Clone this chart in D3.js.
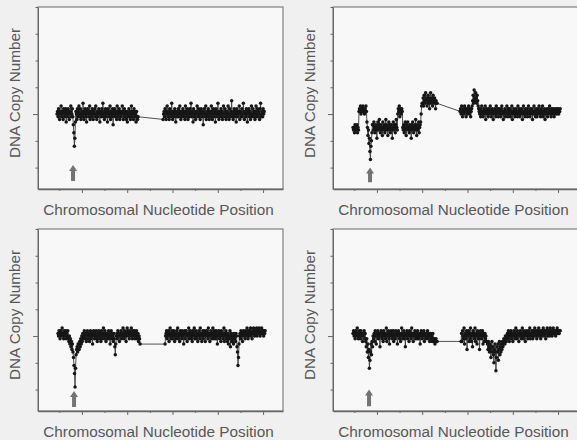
<!DOCTYPE html>
<html lang="en">
<head>
    <meta charset="UTF-8">
    <title>DNA Copy Number along the chromosome</title>
    <script src="https://d3js.org/d3.v7.min.js"></script>
    <style>
        body { margin: 0; background: #f0f0f0; }
        svg { display: block; }
        .label { font-family: "Liberation Sans", Arial, sans-serif; font-size: 15.3px; fill: #575757; }
    </style>
</head>
<body>
<div id="chart"></div>
<script>
// log2 copy-number ratio x10; arm extents in Mb
const armsA = [[22.5, 112], [139.6, 251.2]];
const armsB = [[23.6, 116.4], [141.8, 252.3]];
const armsC = [[23.6, 114.2], [141.8, 252.3]];
const armsD = [[23.6, 116.4], [142.9, 252.3]];

const valuesA1 = [
    0,1,-1,2,0,-2,1,0,3,-1,1,0,-2,2,1,-1,0,2,-3,1,
    0,-1,2,1,-2,0,1,3,-1,0,2,-1,-4,-7,-12,-9,-3,1,0,-2,
    2,-1,1,3,0,-1,2,-2,0,1,-1,4,0,-2,1,2,-1,0,-3,1,
    2,0,-1,1,3,-2,0,1,-1,2,0,-2,1,0,2,-1,3,0,-2,1,
    -1,0,2,1,-3,0,1,-1,2,0,4,-1,1,-2,0,2,-1,1,0,-3,
    2,1,-1,0,3,-2,1,0,-1,2,-4,1,0,2,-1,0,1,-2,3,0,
    -1,1,2,-2,0,1,-1,0,3,1,-2,0,2,-1,1,0,-2,1,-3,-1,
    0,2,-1,1,-2,0,3,-1,1,0,-2,2,1,-1,0,-3,1,-1,-2,-1];
const valuesA2 = [
    -2,0,1,-1,2,0,-2,1,3,0,-1,1,-2,2,0,1,-1,4,0,-2,
    1,0,-1,2,1,-3,0,1,-1,0,2,-1,1,3,0,-2,1,-1,0,2,
    -1,1,0,-2,3,1,-1,0,2,-2,0,1,-1,2,0,4,-1,1,0,-3,
    2,0,-1,1,-2,0,1,3,-1,0,2,-1,1,-2,0,2,1,-1,0,-4,
    1,2,0,-1,3,-2,0,1,-1,2,0,-2,1,0,-1,3,1,-2,0,2,
    -1,0,1,-3,2,0,-1,1,4,0,-2,1,-1,0,2,-1,1,-2,0,3,
    0,-1,2,1,-2,0,1,-1,3,0,-2,2,0,-1,1,5,-1,0,-2,1,
    2,-1,0,1,-3,2,0,-1,1,0,3,-2,1,0,-1,2,-1,0,4,1,
    -2,0,1,-1,2,0,-3,1,0,2,-1,1,-2,0,3,-1,0,2,-1,1,
    0,-2,1,3,-1,0,2,-1,1,0,-2,2,4,-1,0,1,-1,2,0,1];

const valuesB1 = [
    -5,-6,-5,-7,-4,-6,-5,-6,-4,-7,-5,-6,
    1,2,1,3,0,2,1,2,3,1,2,0,2,1,3,1,
    -3,-5,-8,-6,-11,-9,-14,-17,-12,-10,-7,-4,
    -4,-6,-3,-5,-7,-5,-4,-6,-9,-5,-3,-6,-4,-2,-5,-7,-4,-6,-5,-8,
    -3,-5,-6,-4,-7,-5,-2,-6,-4,-5,-8,-5,-3,-6,-4,-7,-5,-4,-6,-9,
    -5,-3,-6,-4,-5,-7,-4,-2,-5,-6,
    0,2,1,3,-1,2,1,0,2,1,
    -5,-6,-4,-7,-5,-3,-6,-8,-4,-5,-3,-6,-5,-7,-4,-6,-5,-9,
    -4,-6,-3,-5,-7,-5,-4,-6,-2,-5,-8,-4,-6,-5,-3,-7,-5,-4,
    -3,0,3,4,
    4,6,3,7,5,4,8,5,6,3,5,7,4,6,2,5,8,4,6,5,3,7,5,4,6,5,2,5,4,4];
const valuesB2 = [
    1,2,0,3,1,-1,2,1,0,3,2,1,-1,2,1,0,2,3,1,0,2,-1,1,2,
    3,5,7,4,9,6,5,8,6,4,7,5,3,2,
    1,0,2,-1,1,3,0,1,-1,2,1,0,3,-2,1,2,0,1,-1,2,
    0,1,3,1,-1,0,2,1,-2,1,0,2,1,-1,3,0,1,2,-1,1,
    2,0,1,-1,2,3,0,1,-2,1,0,2,-1,1,0,3,1,-1,2,0,
    1,2,-1,0,1,3,-2,1,0,2,1,-1,0,2,1,0,-1,3,1,0,
    2,-1,1,0,2,1,-2,0,3,1,0,-1,2,1,0,2,-1,1,3,0,
    1,-1,2,0,1,2,-2,1,0,3,1,0,-1,2,1,-1,0,2,1,3,
    0,1,-1,2,0,1,3,-1,1,0,2,-2,1,0,1,2,-1,0,2,1,
    3,0,1,-1,2,1,0,2,1,-1,0,2,1,1,0,2,1,2,0,1,1,2];

const valuesC1 = [
    1,0,2,1,-1,2,0,1,3,0,1,-1,2,1,0,2,-1,1,0,2,
    -1,-2,0,-3,-1,-4,-2,-5,-3,-6,-8,-11,-14,-19,-12,-7,-5,-4,-6,-3,
    -3,-5,-2,-4,-1,-3,0,-2,1,-1,0,2,-1,1,0,-2,1,2,-1,0,
    1,-2,0,2,-1,1,0,-3,1,2,0,-1,1,0,2,-1,-2,1,0,2,
    -1,0,1,-2,2,0,-1,1,3,0,-1,2,1,-2,0,1,-1,0,2,-1,
    1,-3,0,2,-1,1,0,-2,1,-1,-4,-7,-3,0,1,-1,2,0,1,-2,
    0,1,2,-1,0,1,3,0,-1,2,1,0,-2,1,3,2,0,1,-1,2,
    1,0,3,1,-1,2,0,1,2,-1,1,0,2,-1,0,1,-2,0,-1,-3];
const valuesC2 = [
    -3,0,1,2,-1,1,0,2,-2,1,3,0,-1,1,2,-1,0,2,1,-2,
    0,1,-1,2,0,3,-1,1,0,-2,2,1,0,-1,2,0,1,-3,1,2,
    -1,0,2,1,-2,1,0,3,-1,1,2,0,-1,1,-2,2,0,1,3,-1,
    0,2,-1,1,0,-2,1,2,0,-1,3,1,0,-2,1,2,-1,0,1,2,
    -2,1,0,2,1,-1,3,0,1,-2,0,2,1,-1,0,3,1,-1,2,0,
    1,-1,2,0,-3,1,0,2,-1,1,0,-2,2,1,0,-1,1,3,-2,0,
    1,2,-1,0,-2,1,-3,0,-1,2,-4,0,1,-2,-1,0,-3,1,-1,0,
    -2,1,0,-4,-6,-11,-8,-3,0,1,-1,2,0,1,-2,1,2,0,1,-1,
    2,1,0,3,1,-1,2,0,1,2,3,0,1,-1,2,1,3,2,0,1,
    2,1,3,0,2,1,2,3,1,0,2,1,3,2,1,2,0,2,1,2];

const valuesD1 = [
    1,2,0,1,-1,2,1,0,3,1,-1,0,2,1,-1,2,0,1,-2,1,
    0,2,-1,1,-2,-4,-1,-6,-3,-8,-5,-12,-9,-6,-3,-7,-2,-4,0,-1,
    1,-2,2,0,-3,1,0,2,-1,1,0,-4,1,2,0,-1,1,-2,2,0,
    1,-1,0,3,-2,1,0,2,-1,-3,1,0,2,1,-1,0,2,-2,1,0,
    -1,2,0,1,-3,1,2,0,-1,1,-2,0,3,1,-1,0,2,-1,1,-4,
    0,1,2,-1,0,1,-2,2,0,1,-1,3,0,1,-2,0,1,2,-1,0,
    1,-1,2,0,-1,1,0,-3,1,2,0,-1,1,0,2,-2,1,0,-1,1,
    0,2,-1,0,1,-2,0,1,-1,0,-2,1,-1,-2,-1,-3,-2,-1,-2,-2];
const valuesD2 = [
    -2,1,-2,2,0,-1,3,-3,1,0,-1,2,-5,1,0,2,-2,1,-1,3,
    0,-2,1,-4,2,0,1,-1,3,-2,0,1,-3,2,0,-1,1,-5,0,2,
    1,-1,0,2,-3,1,0,-2,1,-1,0,-2,
    -2,-3,-5,-2,-4,-6,-3,-5,-8,-4,-2,-6,-4,-7,-10,-5,-3,-6,-13,-8,
    -4,-6,-3,-9,-5,-2,-7,-4,-6,-3,-5,-2,-4,-3,-1,-2,-3,0,-1,-2,
    0,1,-1,2,0,-2,1,0,2,-1,1,0,-2,1,2,0,-1,1,3,0,
    -1,2,0,1,-2,1,0,2,1,-1,0,3,1,-1,2,0,1,-2,1,2,
    0,1,-1,2,1,0,3,-1,1,0,2,1,-1,2,0,1,3,0,1,2,
    -1,1,2,0,3,1,0,2,-1,1,2,0,1,3,2,0,1,2,-1,2,
    1,3,0,2,1,2,0,3,1,2,1,0,2,3,1,2,1,2,0,2,
    1,3,2,1,2,1,2,2];

// arrow marking the deletion: position (Mb), tip and tail (ratio x10)
const arrowPos = [40.2, 42.4, 41.3, 41.3];
const arrowTip = [-19, -20, -20.5, -20];
const arrowTail = [-25, -25.5, -26.5, -26.2];

const yTicks = [-20, -10, 0, 10, 20, 30, 40];
const xMajor = [50, 100, 150, 200, 250];
const xMinor = [25, 75, 125, 175, 225];

const panels = [
    { arms: armsA, values: [valuesA1, valuesA2], left: 38, top: 7 },
    { arms: armsB, values: [valuesB1, valuesB2], left: 333, top: 7 },
    { arms: armsC, values: [valuesC1, valuesC2], left: 38, top: 229 },
    { arms: armsD, values: [valuesD1, valuesD2], left: 333, top: 229 }
];

const width = 577, height = 440;
const pw = 245, ph = 182;

const svg = d3.select("#chart").append("svg")
    .attr("width", width)
    .attr("height", height);

const x = d3.scaleLinear().domain([1.5, 272]).range([0, pw]);
const y = d3.scaleLinear().domain([-28, 40]).range([ph, 0]);

const line = d3.line().x(d => x(d.pos)).y(d => y(d.val));

panels.forEach((p, k) => {
    const g = svg.append("g").attr("transform", `translate(${p.left},${p.top})`);

    g.append("rect")
        .attr("width", pw).attr("height", ph)
        .attr("fill", "#f8f8f8")
        .attr("stroke", "#808080")
        .attr("stroke-width", 1.2);

    // probes: evenly spaced along each arm
    const points = [];
    p.values.forEach((vals, a) => {
        const [s, e] = p.arms[a];
        vals.forEach((v, i) => points.push({ pos: s + i * (e - s) / (vals.length - 1), val: v }));
    });

    g.append("path")
        .datum(points)
        .attr("d", line)
        .attr("fill", "none")
        .attr("stroke", "#3c3c3c")
        .attr("stroke-width", 0.9);

    g.selectAll(".pt")
        .data(points)
        .enter()
        .append("circle")
        .attr("class", "pt")
        .attr("cx", d => x(d.pos))
        .attr("cy", d => y(d.val))
        .attr("r", 1.75)
        .attr("fill", "#161616");

    // arrow
    const ax = x(arrowPos[k]), t1 = y(arrowTip[k]), t2 = y(arrowTail[k]);
    g.append("path")
        .attr("d", `M${ax},${t1} L${ax + 4},${t1 + 6} L${ax + 2},${t1 + 6} L${ax + 2},${t2} L${ax - 2},${t2} L${ax - 2},${t1 + 6} L${ax - 4},${t1 + 6} Z`)
        .attr("fill", "#737373");

    // axes
    const yAxis = g.append("g")
        .call(d3.axisLeft(y).tickValues(yTicks).tickFormat("").tickSize(2.5).tickSizeOuter(0));
    yAxis.selectAll(".tick line").filter(d => d === 0).attr("x2", -5);
    yAxis.select(".domain").attr("stroke", "#666");
    yAxis.selectAll(".tick line").attr("stroke", "#666");

    const xAxis = g.append("g")
        .attr("transform", `translate(0,${ph})`)
        .call(d3.axisBottom(x).tickValues(xMajor).tickFormat("").tickSize(4).tickSizeOuter(0));
    xAxis.select(".domain").attr("stroke", "#666").attr("stroke-width", 1.3);
    xAxis.selectAll(".tick line").attr("stroke", "#666");
    g.append("g")
        .attr("transform", `translate(0,${ph})`)
        .call(d3.axisBottom(x).tickValues(xMinor).tickFormat("").tickSize(2).tickSizeOuter(0))
        .call(s => s.select(".domain").remove())
        .selectAll(".tick line").attr("stroke", "#666");

    g.append("text")
        .attr("class", "label")
        .attr("x", pw / 2 - 2)
        .attr("y", ph + 26)
        .attr("text-anchor", "middle")
        .text("Chromosomal Nucleotide Position");

    g.append("text")
        .attr("class", "label")
        .attr("transform", `translate(-18,${ph / 2 - 5}) rotate(-90)`)
        .attr("text-anchor", "middle")
        .text("DNA Copy Number");
});
</script>
</body>
</html>
